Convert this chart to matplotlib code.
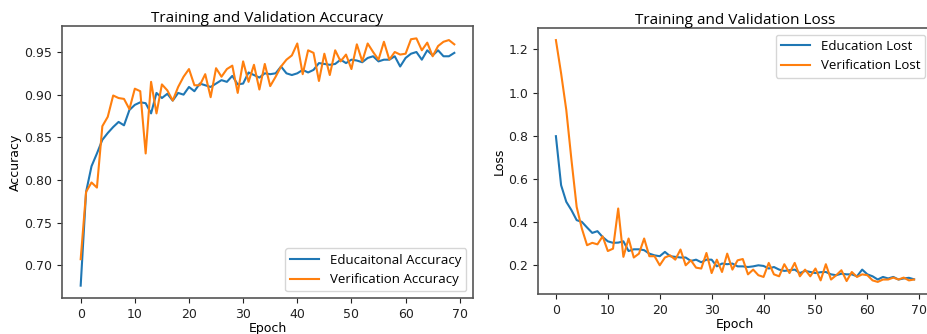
#!/usr/bin/env python3
"""
Training / validation curves
"""
import matplotlib
matplotlib.use('Agg')
import matplotlib.pyplot as plt

epochs = list(range(70))

train_acc = [0.676, 0.786, 0.816, 0.831, 0.847, 0.855, 0.862, 0.868, 0.864, 0.882,
             0.888, 0.891, 0.890, 0.878, 0.902, 0.896, 0.901, 0.893, 0.902, 0.900,
             0.909, 0.904, 0.913, 0.911, 0.909, 0.913, 0.917, 0.915, 0.922, 0.912,
             0.913, 0.926, 0.923, 0.920, 0.925, 0.924, 0.925, 0.933, 0.925, 0.923,
             0.925, 0.929, 0.926, 0.929, 0.937, 0.936, 0.935, 0.936, 0.941, 0.937,
             0.941, 0.940, 0.938, 0.943, 0.945, 0.939, 0.941, 0.941, 0.945, 0.933,
             0.943, 0.948, 0.950, 0.941, 0.952, 0.946, 0.952, 0.945, 0.945, 0.949]

val_acc = [0.707, 0.786, 0.797, 0.791, 0.863, 0.874, 0.899, 0.896, 0.895, 0.883,
           0.907, 0.904, 0.831, 0.915, 0.878, 0.912, 0.905, 0.893, 0.909, 0.921,
           0.930, 0.911, 0.911, 0.924, 0.897, 0.931, 0.921, 0.930, 0.934, 0.902,
           0.939, 0.915, 0.935, 0.906, 0.936, 0.910, 0.921, 0.933, 0.941, 0.946,
           0.960, 0.924, 0.952, 0.949, 0.916, 0.948, 0.923, 0.952, 0.939, 0.947,
           0.930, 0.959, 0.939, 0.960, 0.950, 0.941, 0.962, 0.941, 0.950, 0.947,
           0.948, 0.965, 0.966, 0.952, 0.961, 0.945, 0.957, 0.962, 0.964, 0.959]

train_loss = [0.798, 0.571, 0.494, 0.455, 0.409, 0.401, 0.375, 0.350, 0.358, 0.331,
              0.311, 0.304, 0.305, 0.311, 0.266, 0.274, 0.274, 0.270, 0.254, 0.246,
              0.242, 0.262, 0.242, 0.239, 0.236, 0.236, 0.220, 0.226, 0.214, 0.226,
              0.226, 0.195, 0.208, 0.205, 0.208, 0.195, 0.195, 0.192, 0.195, 0.200,
              0.197, 0.185, 0.192, 0.180, 0.174, 0.177, 0.180, 0.164, 0.174, 0.169,
              0.164, 0.168, 0.169, 0.158, 0.154, 0.161, 0.158, 0.158, 0.149, 0.180,
              0.158, 0.149, 0.134, 0.146, 0.139, 0.146, 0.134, 0.139, 0.142, 0.135]

val_loss = [1.243, 1.089, 0.919, 0.687, 0.470, 0.370, 0.293, 0.304, 0.297, 0.334,
            0.266, 0.277, 0.463, 0.239, 0.324, 0.236, 0.254, 0.324, 0.242, 0.242,
            0.200, 0.236, 0.246, 0.226, 0.273, 0.200, 0.223, 0.189, 0.185, 0.257,
            0.164, 0.226, 0.169, 0.254, 0.180, 0.223, 0.229, 0.158, 0.180, 0.154,
            0.146, 0.211, 0.158, 0.149, 0.205, 0.164, 0.211, 0.149, 0.180, 0.149,
            0.185, 0.130, 0.205, 0.134, 0.154, 0.177, 0.127, 0.169, 0.146, 0.158,
            0.154, 0.130, 0.123, 0.134, 0.134, 0.143, 0.134, 0.143, 0.130, 0.134]

W, H = 928, 334
fig = plt.figure(figsize=(W / 100, H / 100), dpi=100)

# second axes runs off the right edge, like the cropped original
ax1 = fig.add_axes([62 / W, 36 / H, 411 / W, 272 / H])
ax2 = fig.add_axes([538 / W, 40 / H, 394 / W, 266 / H])

title_font = {'family': 'Open Sans', 'size': 11}
legend_font = {'family': 'Open Sans', 'size': 9.5}

ax1.plot(epochs, train_acc, color='#1f77b4', lw=1.5, label='Educaitonal Accuracy')
ax1.plot(epochs, val_acc, color='#ff7f0e', lw=1.5, label='Verification Accuracy')
ax1.set_title('Training and Validation Accuracy', fontdict=title_font, pad=3)
ax1.set_xlabel('Epoch', fontsize=9, labelpad=1)
ax1.set_ylabel('Accuracy', fontsize=9, labelpad=2)
ax1.legend(loc='lower right', prop=legend_font, handlelength=2.2)

ax2.plot(epochs, train_loss, color='#1f77b4', lw=1.5, label='Education Lost')
ax2.plot(epochs, val_loss, color='#ff7f0e', lw=1.5, label='Verification Lost')
ax2.set_title('Training and Validation Loss', fontdict=title_font, pad=3)
ax2.set_xlabel('Epoch', fontsize=9, labelpad=1)
ax2.set_ylabel('Loss', fontsize=9, labelpad=2)
ax2.legend(loc='upper right', prop=legend_font, handlelength=2.2)

for ax in (ax1, ax2):
    ax.set_xticks(range(0, 71, 10))
    ax.tick_params(labelsize=9, colors='#222222')
    for sp in ax.spines.values():
        sp.set_color('#555555')
        sp.set_linewidth(1.2)

fig.savefig('out.png', dpi=100)
